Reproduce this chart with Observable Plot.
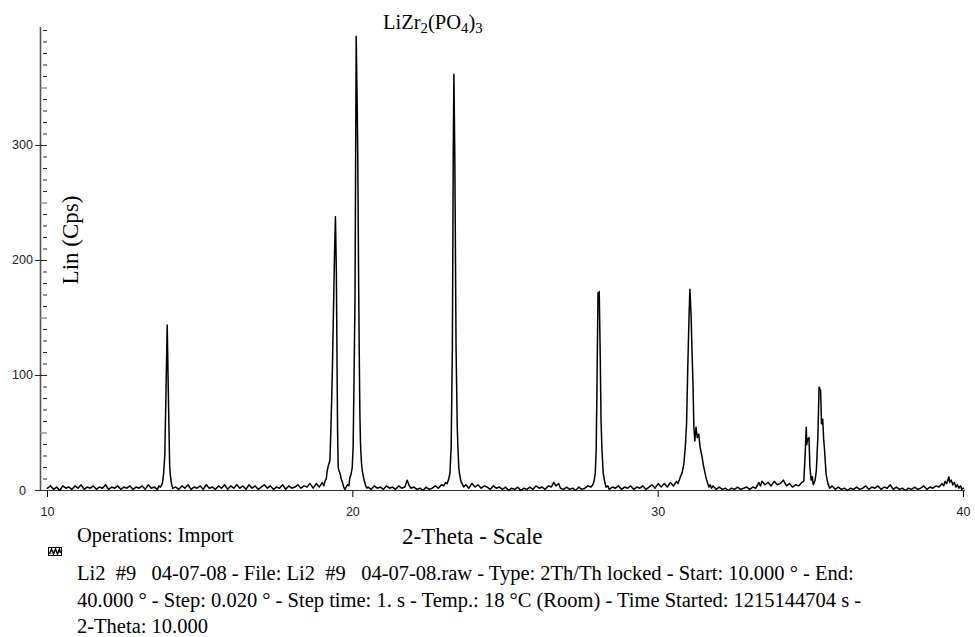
<!DOCTYPE html>
<html><head><meta charset="utf-8">
<script src="https://cdn.jsdelivr.net/npm/d3@7"></script>
<script src="https://cdn.jsdelivr.net/npm/@observablehq/plot@0.6"></script>
<style>
body{margin:0;background:#fff;}
#wrap{position:relative;width:975px;height:637px;overflow:hidden;background:#fff;}
#chart{position:absolute;left:0;top:0;}
.serif{position:absolute;font-family:"Liberation Serif","Times New Roman",serif;color:#000;white-space:pre;line-height:1;}
.serif sub{font-size:0.72em;vertical-align:-0.28em;line-height:0;}
</style></head><body>
<div id="wrap">
  <div id="chart"></div>
  <div class="serif" id="title" style="left:383px;top:12px;font-size:20.5px;">LiZr<sub>2</sub>(PO<sub>4</sub>)<sub>3</sub></div>
  <div class="serif" id="ylab" style="left:70px;top:240px;font-size:23px;transform:translate(-50%,-50%) rotate(-90deg);">Lin (Cps)</div>
  <div class="serif" id="ops" style="left:77px;top:525px;font-size:20.5px;">Operations: Import</div>
  <div class="serif" id="xlab" style="left:402px;top:525px;font-size:23px;">2-Theta - Scale</div>
  <svg id="icon" style="position:absolute;left:48px;top:547px;" width="15" height="10">
    <rect x="0.5" y="0.5" width="13" height="8" fill="#fff" stroke="#000" stroke-width="1"/>
    <polyline points="1.5,7 3.5,2 5.5,7 7.5,2 9.5,7 11.5,2 12.5,6" fill="none" stroke="#000" stroke-width="1.4"/>
  </svg>
  <div class="serif" id="cap" style="left:77px;top:560px;font-size:20.5px;line-height:26.7px;"></div>
</div>
<script>
// ---- scan data: [2-theta (deg), intensity (Cps)] ----
const base10to13 = [[10.0,2],[10.1,4],[10.2,1],[10.3,3],[10.4,0],[10.5,4],[10.6,2],[10.7,3],[10.8,1],[10.9,4],[11.0,2],[11.1,5],[11.2,1],[11.3,3],[11.4,2],[11.5,4],[11.6,1],[11.7,3],[11.8,2],[11.9,5],[12.0,1],[12.1,3],[12.2,2],[12.3,4],[12.4,1],[12.5,3],[12.6,2],[12.7,4],[12.8,1],[12.9,3],[13.0,2],[13.1,4],[13.2,1],[13.3,5],[13.4,2],[13.5,3],[13.6,1],[13.65,4]];
const peak13 = [[13.70,3],[13.76,6],[13.80,14],[13.84,30],[13.88,85],[13.92,144],[13.96,80],[14.00,22],[14.02,14],[14.06,6],[14.10,2]];
const base14to19 = [[14.2,3],[14.3,1],[14.4,4],[14.5,2],[14.6,5],[14.7,1],[14.8,3],[14.9,2],[15.0,4],[15.1,1],[15.2,5],[15.3,2],[15.4,3],[15.5,1],[15.6,4],[15.7,2],[15.8,5],[15.9,1],[16.0,4],[16.1,2],[16.2,5],[16.3,2],[16.4,4],[16.5,1],[16.6,5],[16.7,2],[16.8,4],[16.9,1],[17.0,3],[17.1,5],[17.2,2],[17.3,4],[17.4,1],[17.5,3],[17.6,2],[17.7,5],[17.8,1],[17.9,4],[18.0,2],[18.1,3],[18.2,5],[18.3,2],[18.4,4],[18.5,3],[18.6,6],[18.7,2],[18.8,6],[18.9,3],[19.0,7],[19.05,4]];
const peak19to20 = [[19.10,9],[19.13,10],[19.16,17],[19.20,22],[19.25,26],[19.29,61],[19.33,105],[19.36,148],[19.40,206],[19.43,238],[19.46,190],[19.48,120],[19.50,52],[19.52,20],[19.55,17],[19.58,15],[19.62,10],[19.65,8],[19.70,3],[19.74,1],[19.78,3],[19.82,5],[19.87,4],[19.90,11],[19.94,14],[19.98,20],[20.01,38],[20.04,100],[20.07,165],[20.11,395],[20.14,340],[20.16,293],[20.19,180],[20.21,119],[20.23,67],[20.25,41],[20.28,25],[20.31,17],[20.36,10],[20.42,4],[20.46,2]];
const base20to23 = [[20.5,3],[20.6,1],[20.7,4],[20.8,2],[20.9,3],[21.0,1],[21.1,4],[21.2,2],[21.3,3],[21.4,1],[21.5,4],[21.6,2],[21.7,3],[21.78,9],[21.85,4],[21.9,2],[22.0,3],[22.1,1],[22.2,2],[22.3,0],[22.4,3],[22.5,1],[22.6,2],[22.7,4],[22.8,2],[22.9,5]];
const peak23 = [[22.98,4],[23.04,7],[23.09,6],[23.14,10],[23.18,15],[23.22,38],[23.26,125],[23.29,300],[23.31,362],[23.34,290],[23.38,125],[23.42,55],[23.44,38],[23.47,20],[23.49,15],[23.54,8],[23.58,6],[23.63,3]];
const base23to27 = [[23.7,5],[23.8,2],[23.9,6],[24.0,3],[24.1,5],[24.2,2],[24.3,4],[24.4,3],[24.5,1],[24.6,4],[24.7,2],[24.8,3],[24.9,1],[25.0,3],[25.1,0],[25.2,2],[25.3,1],[25.4,3],[25.5,0],[25.6,2],[25.7,1],[25.8,3],[25.9,1],[26.0,4],[26.1,2],[26.2,3],[26.3,1],[26.4,4],[26.5,3],[26.58,7],[26.65,4],[26.74,6],[26.8,2],[26.9,1],[27.0,3],[27.1,1],[27.2,2],[27.3,0],[27.4,3],[27.5,1],[27.6,2],[27.7,4],[27.8,3]];
const peak28 = [[27.86,5],[27.90,8],[27.94,15],[27.97,35],[28.00,100],[28.03,172],[28.05,166],[28.07,173],[28.10,122],[28.13,60],[28.16,35],[28.20,15],[28.24,9],[28.29,3]];
const base28to30 = [[28.35,4],[28.4,1],[28.5,3],[28.6,2],[28.7,4],[28.8,1],[28.9,3],[29.0,2],[29.1,4],[29.2,1],[29.3,3],[29.4,2],[29.5,4],[29.6,1],[29.7,3],[29.8,5],[29.9,2],[30.0,6],[30.1,3],[30.2,6],[30.3,3],[30.4,7],[30.5,4],[30.6,8],[30.65,6]];
const peak31 = [[30.73,12],[30.79,16],[30.84,23],[30.89,38],[30.93,58],[30.97,107],[31.01,150],[31.04,175],[31.08,151],[31.11,120],[31.14,93],[31.17,55],[31.20,43],[31.24,55],[31.28,46],[31.33,49],[31.37,38],[31.41,33],[31.44,29],[31.48,22],[31.52,17],[31.56,12],[31.59,9],[31.66,3]];
const base31to34 = [[31.7,5],[31.75,2],[31.8,4],[31.9,1],[32.0,3],[32.1,1],[32.2,2],[32.3,0],[32.4,2],[32.5,1],[32.6,3],[32.7,1],[32.8,2],[32.9,3],[33.0,1],[33.1,3],[33.2,2],[33.3,7],[33.35,4],[33.4,8],[33.5,5],[33.6,7],[33.7,4],[33.8,8],[33.9,5],[34.0,6],[34.1,9],[34.2,4],[34.3,6],[34.4,3],[34.5,5],[34.6,4],[34.7,7]];
const peak35 = [[34.77,8],[34.81,29],[34.85,55],[34.87,40],[34.89,45],[34.92,44],[34.94,46],[34.97,20],[35.01,9],[35.05,12],[35.08,5],[35.10,6],[35.14,9],[35.18,17],[35.23,46],[35.27,90],[35.30,88],[35.32,87],[35.35,58],[35.39,62],[35.42,45],[35.45,35],[35.50,14],[35.56,6],[35.62,2]];
const base35to40 = [[35.7,4],[35.8,1],[35.9,3],[36.0,1],[36.1,2],[36.2,0],[36.3,2],[36.4,1],[36.5,3],[36.6,1],[36.7,2],[36.8,4],[36.9,1],[37.0,3],[37.1,2],[37.2,4],[37.3,1],[37.4,3],[37.5,2],[37.6,5],[37.7,1],[37.8,3],[37.9,1],[38.0,2],[38.1,0],[38.2,2],[38.3,1],[38.4,3],[38.5,1],[38.6,2],[38.7,4],[38.8,1],[38.9,3],[39.0,2],[39.1,4],[39.2,3],[39.3,6],[39.35,4],[39.4,8],[39.45,6],[39.5,10],[39.52,12],[39.55,7],[39.6,9],[39.65,5],[39.7,7],[39.75,3],[39.8,5],[39.85,2],[39.9,4],[39.95,1],[40.0,2]];

// ---- axes ----
const xDomain = [9.77, 40.066];
const yDomain = [0, 402.6];
const xTicks = [10, 20, 30, 40];
const yLabelTicks = [0, 100, 200, 300];
const yMajorTicks = [50, 150, 250, 350];
const yMinorTicks = [10,20,30,40,60,70,80,90,110,120,130,140,160,170,180,190,210,220,230,240,260,270,280,290,310,320,330,340,360,370,380,390,400];

const captionLines = [
  "Li2  #9   04-07-08 - File: Li2  #9   04-07-08.raw - Type: 2Th/Th locked - Start: 10.000 ° - End:",
  "40.000 ° - Step: 0.020 ° - Step time: 1. s - Temp.: 18 °C (Room) - Time Started: 1215144704 s -",
  "2-Theta: 10.000"
];

const scan = [].concat(base10to13, peak13, base14to19, peak19to20, base20to23, peak23,
  base23to27, peak28, base28to30, peak31, base31to34, peak35, base35to40)
  .map(([a, c]) => ({angle: a, cps: c}))
  .sort((p, q) => p.angle - q.angle);

const sans = "'Liberation Sans', Arial, sans-serif";

const chart = Plot.plot({
  width: 975, height: 637,
  marginLeft: 40, marginRight: 10, marginTop: 27, marginBottom: 147,
  style: {background: "#fff", color: "#000", fontFamily: sans},
  x: {domain: xDomain},
  y: {domain: yDomain},
  marks: [
    Plot.ruleX([xDomain[0]], {stroke: "#555", strokeWidth: 1.6}),
    Plot.axisY({ticks: yMinorTicks, tickSize: 4, dx: 7, text: null, label: null, stroke: "#222"}),
    Plot.axisY({ticks: yMajorTicks, tickSize: 7, dx: 7, text: null, label: null, stroke: "#888", strokeWidth: 1.3}),
    Plot.axisY({ticks: yLabelTicks, tickSize: 12, dx: 7, text: null, label: null, stroke: "#222"}),
    Plot.axisY({ticks: yLabelTicks, tickSize: 0, tickPadding: 0, dx: -18, textAnchor: "middle",
      fontSize: 12.5, label: null, fill: "#222"}),
    Plot.axisX({ticks: xTicks, tickSize: 7, tickPadding: 10, fontSize: 12.5, label: null, fill: "#222"}),
    Plot.ruleY([0], {stroke: "#333", strokeWidth: 1.2}),
    Plot.line(scan, {x: "angle", y: "cps", stroke: "#000", strokeWidth: 1.5})
  ]
});
document.getElementById("chart").appendChild(chart);
document.getElementById("cap").textContent = captionLines.join("\n");
</script>
</body></html>
